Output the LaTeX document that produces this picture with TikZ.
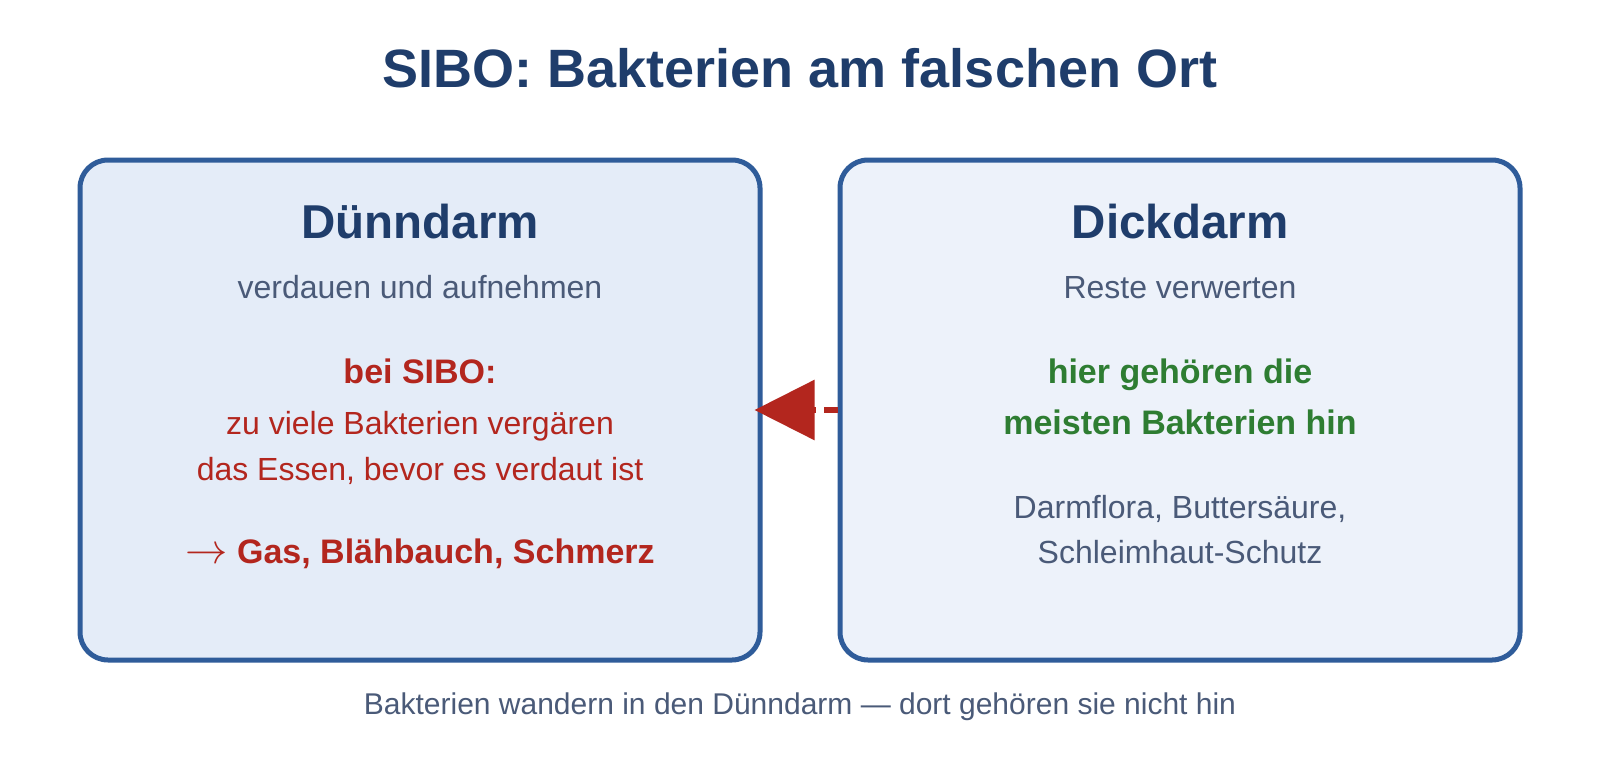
\documentclass[tikz,border=0pt]{standalone}
\usepackage{fontspec}
\setmainfont{Liberation Sans}
\usetikzlibrary{arrows.meta}
\definecolor{navy}{HTML}{1F3D6B}
\definecolor{boxline}{HTML}{2F5C9A}
\definecolor{leftfill}{HTML}{E4ECF8}
\definecolor{rightfill}{HTML}{EDF2FA}
\definecolor{graytext}{HTML}{4A5A78}
\definecolor{redtext}{HTML}{B3261E}
\definecolor{greentext}{HTML}{2E7D32}
\tikzset{
  panel/.style={draw=boxline, line width=5pt, rounded corners=28pt, minimum width=680pt, minimum height=500pt, inner sep=0pt},
  txt/.style={anchor=base, inner sep=0pt, align=center},
  titletxt/.style={txt, text=navy, font=\fontsize{54}{62}\selectfont\bfseries},
  headtxt/.style={txt, text=navy, font=\fontsize{47.5}{54}\selectfont\bfseries},
  subtxt/.style={txt, text=graytext, font=\fontsize{32}{38}\selectfont},
  redreg/.style={txt, text=redtext, font=\fontsize{32}{38}\selectfont},
  redbold/.style={txt, text=redtext, font=\fontsize{34}{40}\selectfont\bfseries},
  greenbold/.style={txt, text=greentext, font=\fontsize{34}{40}\selectfont\bfseries},
  captxt/.style={txt, text=graytext, font=\fontsize{30}{34}\selectfont},
  migrate/.style={draw=redtext, line width=6pt, dash pattern=on 14pt off 8pt, -{Triangle[length=60pt, width=59pt, fill=redtext]}}
}
\begin{document}
\begin{tikzpicture}[x=1pt, y=-1pt]
\useasboundingbox (0,0) rectangle (1600,760);
\fill[white] (0,0) rectangle (1600,760);
\node[titletxt] (title) at (800,87) {SIBO: Bakterien am falschen Ort};
\node[panel, fill=leftfill] (lb) at (420,410) {};
\node[panel, fill=rightfill] (rb) at (1180,410) {};
% left panel
\node[headtxt] (lhead) at (420,238) {Dünndarm};
\node[subtxt] (lsub) at (420,298) {verdauen und aufnehmen};
\node[redbold] (lres0) at (420,383) {bei SIBO:};
\node[redreg] (l1) at (420,434) {zu viele Bakterien vergären};
\node[redreg] (l2) at (420,480) {das Essen, bevor es verdaut ist};
\node[redbold] (lres) at (420,563) {\scalebox{1.7}{$\rightarrow$} Gas, Blähbauch, Schmerz};
% right panel
\node[headtxt] (rhead) at (1180,238) {Dickdarm};
\node[subtxt] (rsub) at (1180,298) {Reste verwerten};
\node[greenbold] (r1) at (1180,383) {hier gehören die};
\node[greenbold] (r2) at (1180,434) {meisten Bakterien hin};
\node[subtxt] (r3) at (1180,518) {Darmflora, Buttersäure,};
\node[subtxt] (r4) at (1180,563) {Schleimhaut-Schutz};
% arrow
\coordinate (tip) at ([xshift=-8pt]lb.east);
\draw[migrate] (rb.west) -- (tip);
% caption
\node[captxt] (cap) at (800,714) {Bakterien wandern in den Dünndarm — dort gehören sie nicht hin};
\end{tikzpicture}
\end{document}
